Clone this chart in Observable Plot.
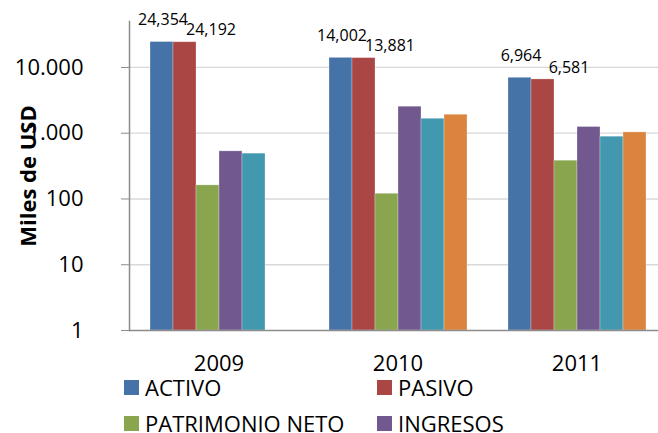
<!DOCTYPE html>
<html><head><meta charset="utf-8">
<script src="https://cdn.jsdelivr.net/npm/d3@7"></script>
<script src="https://cdn.jsdelivr.net/npm/@observablehq/plot@0.6"></script>
<style>
body{margin:0;background:#fff;font-family:"Open Sans",sans-serif;}
#chart{position:relative;width:658px;height:433px;}
#legend{position:absolute;left:0;top:376px;width:658px;height:57px;pointer-events:none}
.li{position:absolute;display:flex;align-items:center;font-size:22px;line-height:20px;height:20px;color:#000;white-space:nowrap}
.sw{width:15px;height:15px;margin-right:6px;flex:none}
</style></head><body><div id="chart"><div id="legend"></div></div>
<script>
const years = ["2009", "2010", "2011"];
const series = ["ACTIVO", "PASIVO", "PATRIMONIO NETO", "INGRESOS", "SERIE 5", "SERIE 6"];
const colors = ["#4572A7", "#AA4643", "#89A54E", "#71588F", "#4198AF", "#DB843D"];
const activo = [24354, 14002, 6964];
const pasivo = [24192, 13881, 6581];
const patrimonio = [161, 120, 382];
const ingresos = [530, 2530, 1243];
const serie5 = [489, 1660, 885];
const serie6 = [null, 1910, 1029];
const yTicks = [1, 10, 100, 1000, 10000];
const legendItems = ["ACTIVO", "PASIVO", "PATRIMONIO NETO", "INGRESOS"];
const yTitle = "Miles de USD";

const valuesBySeries = [activo, pasivo, patrimonio, ingresos, serie5, serie6];
const data = [];
years.forEach((yr, i) => series.forEach((s, j) => {
  const v = valuesBySeries[j][i];
  if (v != null) data.push({year: yr, series: s, value: v});
}));
const aData = data.filter(d => d.series === "ACTIVO");
const pData = data.filter(d => d.series === "PASIVO");
const fmtLabel = d3.format(",");
const fmtTick = d => d3.format(",")(d).replace(/,/g, ".");

const plot = Plot.plot({
  width: 658, height: 376,
  marginLeft: 128, marginRight: -8.5, marginTop: 21, marginBottom: 46,
  style: {fontFamily: "'Open Sans', sans-serif", background: "white", color: "black", overflow: "visible"},
  fx: {domain: years, paddingInner: 0.2, paddingOuter: 0.1, label: null},
  x: {domain: series, padding: 0, axis: null},
  y: {type: "log", domain: [1, 50000]},
  color: {domain: series, range: colors},
  marks: [
    Plot.ruleY(yTicks.slice(1), {stroke: "#d9d9d9", strokeWidth: 1.3, insetLeft: -18, insetRight: -18}),
    Plot.barY(data, {fx: "year", x: "series", y1: 1, y2: "value", fill: "series", stroke: "white", strokeOpacity: 0.35, strokeWidth: 0.8}),
    Plot.ruleY([1], {stroke: "#8c8c8c", strokeWidth: 1.5, insetLeft: -18, insetRight: -18}),
    Plot.frame({anchor: "left", facetAnchor: "left", insetLeft: -18, stroke: "#8c8c8c", strokeWidth: 1.5}),
    Plot.axisY(yTicks, {anchor: "left", tickSize: 8, tickPadding: 38, dx: -18, fontSize: 22, stroke: "#8c8c8c", fill: "black", label: null, tickFormat: fmtTick}),
    Plot.axisFx({anchor: "bottom", tickSize: 0, tickPadding: 25, fontSize: 22, label: null}),
    Plot.text(aData, {fx: "year", x: "series", y: "value", text: d => fmtLabel(d.value), dx: 1, dy: -22, fontSize: 16, fill: "black"}),
    Plot.text(pData, {fx: "year", x: "series", y: "value", text: d => fmtLabel(d.value), dx: 26, dy: -12, fontSize: 16, fill: "black"}),
    Plot.text([yTitle], {fx: () => "2009", frameAnchor: "left", textAnchor: "middle", rotate: -90, dx: -119, fontSize: 22, fontWeight: "bold", fill: "black"})
  ]
});
const chart = document.getElementById("chart");
chart.insertBefore(plot, chart.firstChild);

const legend = document.getElementById("legend");
const colX = [124, 377];
const rowY = [1, 37];
legendItems.forEach((name, k) => {
  const div = document.createElement("div");
  div.className = "li";
  div.style.left = colX[k % 2] + "px";
  div.style.top = rowY[Math.floor(k / 2)] + "px";
  const sw = document.createElement("span");
  sw.className = "sw";
  sw.style.background = colors[series.indexOf(name)];
  div.appendChild(sw);
  div.appendChild(document.createTextNode(name));
  legend.appendChild(div);
});
</script></body></html>
